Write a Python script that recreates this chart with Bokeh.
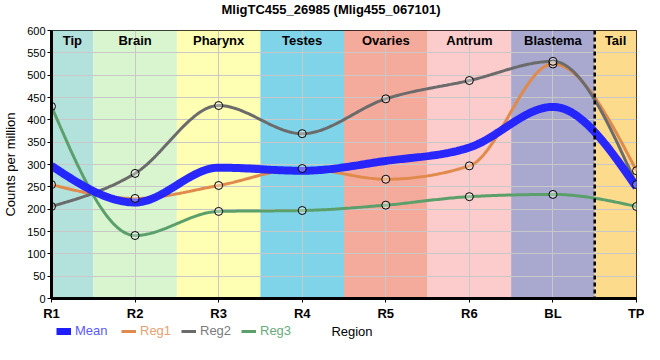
import numpy as np
from bokeh.plotting import figure
from bokeh.layouts import column
from bokeh.models import Legend, LegendItem, Span, FixedTicker, Range1d
from bokeh.core.properties import value
from bokeh.embed import file_html
from bokeh.resources import INLINE

# ---- data ----
title_text = "MligTC455_26985 (Mlig455_067101)"
regions = ["R1", "R2", "R3", "R4", "R5", "R6", "BL", "TP"]
mean = [297, 215, 293, 286, 308, 338, 429, 249]
reg1 = [255, 224, 253, 291, 267, 297, 525, 286]
reg2 = [206, 280, 432, 369, 447, 488, 531, 255]
reg3 = [430, 141, 195, 197, 209, 228, 233, 206]

band_names = ["Tip", "Brain", "Pharynx", "Testes", "Ovaries", "Antrum", "Blastema", "Tail"]
band_colors = ["#b3e2dd", "#d9f5d0", "#ffffb4", "#7fd4ea", "#f5ab9c", "#fccbcb", "#a9a8cf", "#fddb8c"]

series_names = ["Reg1", "Reg2", "Reg3"]
series_colors = ["#e08a4b", "#6b6b6b", "#5b9f6b"]
series_text_colors = ["#e8a070", "#7a7a7a", "#68aa7a"]
mean_color = "#1e1eff"
mean_text_color = "#5a5aff"

FONT = "Liberation Sans"
n = len(regions)
xs = np.arange(n, dtype=float)


def monotone(x, y, steps=40):
    x = np.asarray(x, float)
    y = np.asarray(y, float)
    h = np.diff(x)
    s = np.diff(y) / h
    m = np.zeros_like(y)
    for i in range(1, len(y) - 1):
        if s[i - 1] * s[i] <= 0:
            m[i] = 0.0
        else:
            p_ = (s[i - 1] * h[i] + s[i] * h[i - 1]) / (h[i - 1] + h[i])
            m[i] = (np.sign(s[i - 1]) + np.sign(s[i])) * min(abs(s[i - 1]), abs(s[i]), 0.5 * abs(p_))
    m[0] = (3 * s[0] - m[1]) / 2
    m[-1] = (3 * s[-1] - m[-2]) / 2
    ox, oy = [], []
    for i in range(len(y) - 1):
        t = np.linspace(0, 1, steps, endpoint=(i == len(y) - 2))
        h00 = 2 * t**3 - 3 * t**2 + 1
        h10 = t**3 - 2 * t**2 + t
        h01 = -2 * t**3 + 3 * t**2
        h11 = t**3 - t**2
        ox.extend(x[i] + t * h[i])
        oy.extend(h00 * y[i] + h10 * h[i] * m[i] + h01 * y[i + 1] + h11 * h[i] * m[i + 1])
    return ox, oy


LEFT, RIGHT, W = 50, 8, 644


def strip(height):
    f = figure(width=W, height=height, output_backend="svg", toolbar_location=None,
               x_range=Range1d(LEFT, W - RIGHT), y_range=Range1d(0, height),
               min_border_left=LEFT, min_border_right=RIGHT, min_border_top=0, min_border_bottom=0)
    f.axis.visible = False
    f.grid.visible = False
    f.outline_line_color = None
    return f


# ---- title strip ----
H0 = 20
p0 = strip(H0)
p0.text(x=[330], y=[H0 - 9], text=[title_text], text_align="center", text_baseline="middle",
        text_font=value(FONT), text_font_size="13px", text_font_style="bold", text_color="black")

# ---- main plot ----
p = figure(width=W, height=303, output_backend="svg", toolbar_location=None,
           x_range=Range1d(0, n - 1), y_range=Range1d(0, 600),
           min_border_left=LEFT, min_border_right=RIGHT, min_border_top=10, min_border_bottom=24)

# bands
bl = [max(i - 0.5, 0) for i in range(n)]
br = [min(i + 0.5, n - 1) for i in range(n)]
bands = p.quad(left=bl, right=br, bottom=0, top=600, fill_color=band_colors, line_color=None)
bands.level = "image"
p.text(x=[(a + b) / 2 for a, b in zip(bl, br)], y=[600] * n, text=band_names,
       text_align="center", text_baseline="top", y_offset=2,
       text_font=value(FONT), text_font_size="13px", text_font_style="bold", text_color="black")

# grid
p.xgrid.ticker = FixedTicker(ticks=list(range(n)))
p.ygrid.ticker = FixedTicker(ticks=list(range(0, 601, 50)))
p.grid.grid_line_color = "#c8c8c8"
p.grid.grid_line_width = 1

# separator
p.add_layout(Span(location=6.5, dimension="height", line_color="black",
                  line_width=2.5, line_dash="4 3"))

# lines
renderers = []
for ys, c in zip([reg1, reg2, reg3], series_colors):
    cx, cy = monotone(xs, ys)
    renderers.append(p.line(cx, cy, line_color=c, line_width=3))
mx, my = monotone(xs, mean)
mean_r = p.line(mx, my, line_color=mean_color, line_width=8, line_alpha=0.95)
for ys in [reg1, reg2, reg3]:
    p.scatter(xs, ys, size=8, marker="circle", line_color="black", line_width=1,
              fill_color="white", fill_alpha=0.35)

# axes
p.xaxis.ticker = FixedTicker(ticks=list(range(n)))
p.xaxis.major_label_overrides = {i: r for i, r in enumerate(regions)}
p.yaxis.axis_label = "Counts per million"
p.yaxis.ticker = FixedTicker(ticks=list(range(0, 601, 50)))
for ax in (p.xaxis[0], p.yaxis[0]):
    ax.axis_line_width = 3
    ax.axis_line_color = "black"
    ax.major_tick_line_color = "black"
    ax.major_tick_out = 4
    ax.major_tick_in = 0
    ax.minor_tick_line_color = None
    ax.major_label_text_font = FONT
    ax.major_label_text_color = "black"
    ax.axis_label_text_font = FONT
    ax.axis_label_text_font_style = "normal"
    ax.axis_label_text_font_size = "13px"
    ax.axis_label_text_color = "black"
p.xaxis.major_label_text_font_size = "13px"
p.xaxis.major_label_text_font_style = "bold"
p.xaxis.major_label_standoff = 3
p.yaxis.major_label_text_font_size = "11px"
p.yaxis.major_label_standoff = 2
p.yaxis.axis_label_standoff = 6
p.outline_line_color = "black"
p.outline_line_width = 1

# ---- legend strip + x-axis title row ----
H2 = 20
p2 = strip(H2)
leg_specs = [("Mean", mean_color, 7, mean_text_color, 55),
             (series_names[0], series_colors[0], 3, series_text_colors[0], 120),
             (series_names[1], series_colors[1], 3, series_text_colors[1], 180),
             (series_names[2], series_colors[2], 3, series_text_colors[2], 240)]
for label, lc, lw, tc, lx in leg_specs:
    dummy = p2.line(x=[-1000, -999], y=[-1000, -1000], line_color=lc, line_width=lw)
    lg = Legend(items=[LegendItem(label=label, renderers=[dummy])], location=(lx - LEFT, 5),
                glyph_width=15, glyph_height=14, label_height=14, label_standoff=4,
                padding=0, margin=0, border_line_color=None, background_fill_alpha=0,
                label_text_font=FONT, label_text_font_size="13px", label_text_color=tc)
    p2.add_layout(lg, "center")

p2.text(x=[351], y=[H2 / 2 + 2], text=["Region"], text_align="center", text_baseline="middle",
        text_font=value(FONT), text_font_size="13px", text_color="black")

open("out.html", "w").write(file_html(column(p0, p, p2, spacing=0), INLINE))
